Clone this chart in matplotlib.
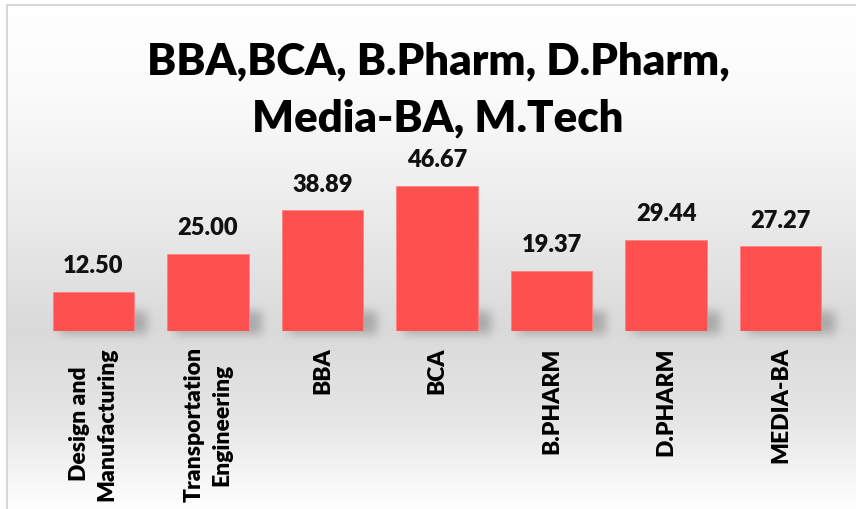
import matplotlib
matplotlib.use("Agg")
import matplotlib.pyplot as plt
import numpy as np

categories = ["Design and\nManufacturing", "Transportation\nEngineering", "BBA", "BCA",
              "B.PHARM", "D.PHARM", "MEDIA-BA"]
values = [12.50, 25.00, 38.89, 46.67, 19.37, 29.44, 27.27]
title_lines = ["BBA,BCA, B.Pharm, D.Pharm,", "Media-BA, M.Tech"]

W, H = 856, 510
plt.rcParams['font.family'] = ['Lato', 'DejaVu Sans']

fig = plt.figure(figsize=(W / 100, H / 100), dpi=100)

# background gradient (white -> grey around the bars -> white)
bg = fig.add_axes([0, 0, 1, 1], zorder=0)
ys = np.arange(H)
stops_y = [0, 90, 200, 330, 420, 510]
stops_v = [1.0, 0.985, 0.93, 0.855, 0.90, 1.0]
col = np.interp(ys, stops_y, stops_v)
grad = np.repeat(col[:, None], W, axis=1)
img = np.dstack([grad, grad, grad])
img[5:7, 6:, :] = 0.84   # top border
img[5:, 6:8, :] = 0.84   # left border
img[:5, :, :] = 1.0
img[:, :6, :] = 1.0

ax = fig.add_axes([36 / W, (H - 332) / H, 802 / W, 186 / H], zorder=2)
ax.set_xlim(-0.5, len(values) - 0.5)
ax.set_ylim(0, 60)
ax.patch.set_alpha(0)
x = np.arange(len(values))
width = 0.71

# soft shadows to the lower right of each bar
fig.canvas.draw()
shadow = np.zeros((H, W))
for xi in x:
    (x0, y0) = ax.transData.transform((xi - width / 2, 0))
    (x1, _) = ax.transData.transform((xi + width / 2, 0))
    r0 = int(H - y0 - 20)
    r1 = int(H - y0 + 3)
    shadow[r0:r1, int(x0 + 8):int(x1 + 14)] = 1.0
for _ in range(3):
    k = 9
    kern = np.ones(k) / k
    shadow = np.apply_along_axis(lambda r: np.convolve(r, kern, mode='same'), 1, shadow)
    shadow = np.apply_along_axis(lambda c: np.convolve(c, kern, mode='same'), 0, shadow)
img = img * (1 - 0.22 * shadow[:, :, None])

bg.imshow(img, extent=[0, W, 0, H], aspect='auto', interpolation='bilinear')
bg.axis('off')

ax.bar(x, values, width=width, color='#FF5050', edgecolor='#FF8080', linewidth=0.6, zorder=3)
for xi, v in zip(x, values):
    ax.text(xi, v + 6.4, f"{v:.2f}", ha='center', va='baseline',
            fontsize=17, fontweight='heavy', color='#111111')

ax.set_xticks(x)
ax.set_xticklabels(categories, rotation=90, fontsize=16.5, fontweight='heavy',
                   multialignment='center', linespacing=1.4)
ax.tick_params(axis='x', length=0, pad=11)
ax.set_yticks([])
for s in ax.spines.values():
    s.set_visible(False)

fig.text(438 / W, 1 - 74 / H, title_lines[0], ha='center', va='baseline',
         fontsize=31.5, fontweight='heavy', color='#000000')
fig.text(438 / W, 1 - 131 / H, title_lines[1], ha='center', va='baseline',
         fontsize=31.5, fontweight='heavy', color='#000000')

fig.savefig("out.png", dpi=100)
